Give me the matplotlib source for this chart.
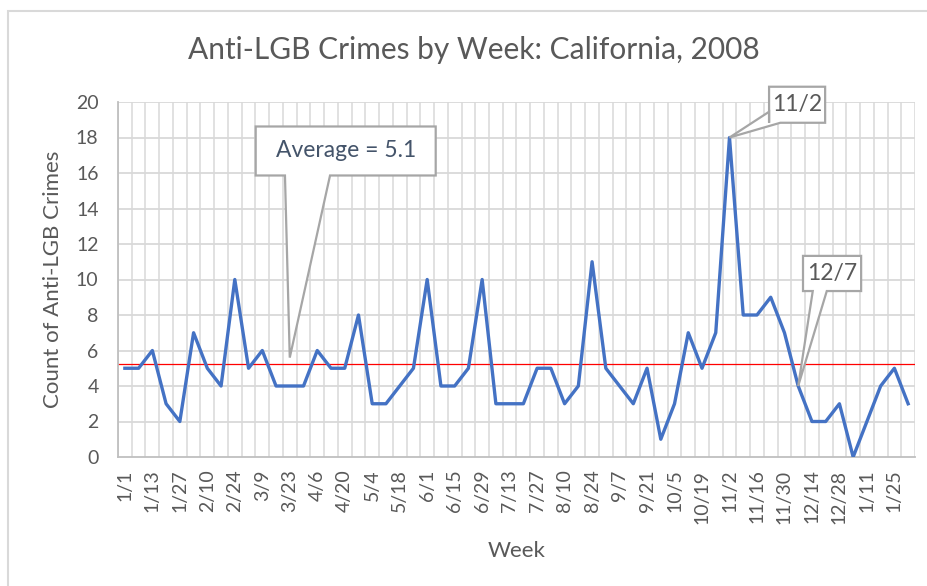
import matplotlib.pyplot as plt
from matplotlib.patches import Polygon, Rectangle

plt.rcParams['font.family'] = ['Lato', 'DejaVu Sans']

# 数据
week_labels = ['1/1', '1/13', '1/27', '2/10', '2/24', '3/9', '3/23', '4/6', '4/20', '5/4',
               '5/18', '6/1', '6/15', '6/29', '7/13', '7/27', '8/10', '8/24', '9/7', '9/21',
               '10/5', '10/19', '11/2', '11/16', '11/30', '12/14', '12/28', '1/11', '1/25']
counts = [5, 5, 6, 3, 2, 7, 5, 4, 10, 5, 6, 4, 4, 4, 6, 5, 5, 8, 3,
          3, 4, 5, 10, 4, 4, 5, 10, 3, 3, 3, 5, 5, 3, 4, 11, 5, 4, 3, 5,
          1, 3, 7, 5, 7, 18, 8, 8, 9, 7, 4, 2, 2, 3, 0, 2, 4, 5, 3]
average_line = 5.25
average_text = 'Average = 5.1'

grey_text = '#595959'
grid_col = '#D9D9D9'

fig = plt.figure(figsize=(9.28, 5.86), dpi=100)
ax = fig.add_axes([118 / 928, 1 - 457 / 586, 797 / 928, 355 / 586])

n = len(counts)
x = list(range(n))
ax.plot(x, counts, color='#4472C4', linewidth=2.4, zorder=3)
ax.axhline(average_line, color='red', linewidth=0.9, zorder=2)

ax.set_xlim(-0.5, n - 0.5)
ax.set_ylim(0, 20)
ax.set_yticks(range(0, 21, 2))
ax.set_xticks(range(0, 2 * len(week_labels), 2))
ax.set_xticklabels(week_labels, rotation=90)
ax.tick_params(length=0, colors=grey_text, labelsize=14)
ax.tick_params(axis='y', pad=14)
ax.tick_params(axis='x', pad=9)

# 网格线
for yv in range(2, 21, 2):
    ax.axhline(yv, color=grid_col, linewidth=1.3, zorder=1)
for i in range(n + 1):
    ax.axvline(i - 0.5, color=grid_col, linewidth=1.1, zorder=1)
for s in ['top', 'right']:
    ax.spines[s].set_visible(False)
for s in ['left', 'bottom']:
    ax.spines[s].set_color('#BFBFBF')
    ax.spines[s].set_linewidth(1.3)

fig.text(474 / 928, 1 - 50 / 586, 'Anti-LGB Crimes by Week: California, 2008',
         fontsize=21.5, color=grey_text, ha='center', va='center')
ax.set_xlabel('Week', fontsize=16, color=grey_text)
ax.set_ylabel('Count of Anti-LGB Crimes', fontsize=16, color=grey_text)
ax.xaxis.set_label_coords(0.5, -0.236)
ax.yaxis.set_label_coords(-0.069, 0.5)


def callout(box, base1, base2, tip, text, color, size):
    x0, y0, x1, y1 = box
    pts = [(x0, y1), (x1, y1), (x1, y0)]
    pts += [base2, tip, base1]
    pts += [(x0, y0)]
    poly = Polygon(pts, closed=True, facecolor='white', edgecolor='#A6A6A6',
                   linewidth=1.6, zorder=5, clip_on=False)
    ax.add_patch(poly)
    ax.text((x0 + x1) / 2, (y0 + y1) / 2, text, ha='center', va='center',
            fontsize=size, color=color, zorder=6, clip_on=False)


# 平均值标注
i_avg = week_labels.index('3/23') * 2
callout((9.52, 15.86, 22.62, 18.62), (11.65, 15.86), (14.93, 15.86),
        (i_avg, 5.6), average_text, '#44546A', 16.5)

# 11/2 峰值
i_peak = week_labels.index('11/2') * 2
callout((46.88, 18.83, 50.96, 20.86), (46.88, 19.45), (47.7, 18.83),
        (i_peak, counts[i_peak]), '11/2', grey_text, 16.5)

# 12/7
i_dec = week_labels.index('11/30') * 2 + 1
callout((49.35, 9.35, 53.58, 11.33), (50.06, 9.35), (51.08, 9.35),
        (i_dec, counts[i_dec]), '12/7', grey_text, 16.5)

# 图表边框
fig.patches.append(Rectangle((8 / 928, -0.1), 1.1, 1.1 - 11 / 586,
                             transform=fig.transFigure, fill=False,
                             edgecolor='#D9D9D9', linewidth=1.5))

fig.savefig('out.png', dpi=100)
